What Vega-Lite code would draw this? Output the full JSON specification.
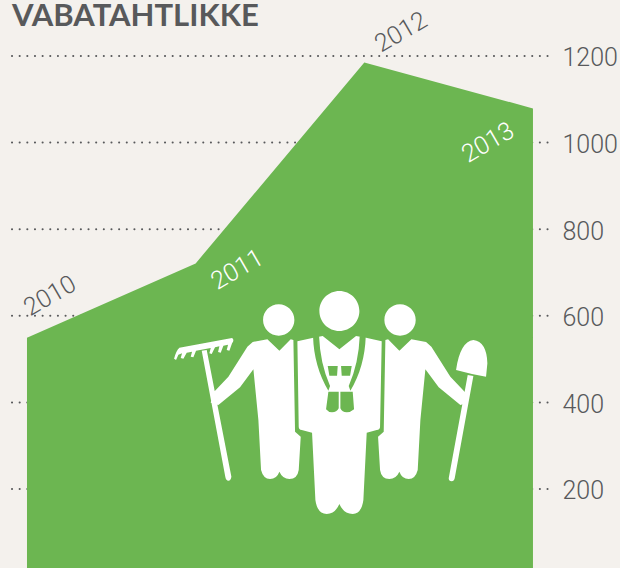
{
"$schema":"https://vega.github.io/schema/vega-lite/v6.json",
"width":620,"height":568,"padding":0,"autosize":{"type":"none"},
"background":"#f4f1ed",
"config":{"view":{"stroke":null}},
"datasets":{
"years":[{"year":2010,"value":549},{"year":2011,"value":721},{"year":2012,"value":1185},{"year":2013,"value":1079}],
"grid":[{"value":200},{"value":400},{"value":600},{"value":800},{"value":1000},{"value":1200}],
"anchor":[{"year":2010.789,"value":682.7}],
"heading":[{"year":2009.911,"value":1269.5,"label":"VABATAHTLIKKE"}]
},
"layer":[
{"data":{"name":"grid"},"mark":{"type":"rule","color":"#58595b","strokeWidth":2,"strokeCap":"round","strokeDash":[0.1,7.55]},
 "encoding":{"x":{"datum":2009.911,"type":"quantitative","scale":{"domain":[2009.84,2013.516],"nice":false,"zero":false},"axis":null},"x2":{"datum":2013.101},
 "y":{"field":"value","type":"quantitative","scale":{"domain":[17.5,1329.3],"nice":false,"zero":false},
  "axis":{"orient":"right","offset":-58,"title":null,"values":[200,400,600,800,1000,1200],"format":"d","domain":false,"ticks":false,"grid":false,"labelPadding":0,"labelOffset":2,"labelFont":"Roboto","labelFontWeight":300,"labelFontSize":25,"labelColor":"#58595b","labelAlign":"left","labelBaseline":"middle"}}}},
{"data":{"name":"heading"},"mark":{"type":"text","font":"Lato","fontWeight":700,"fontSize":31,"color":"#58595b","align":"left","baseline":"alphabetic"},
 "encoding":{"x":{"field":"year","type":"quantitative"},"y":{"field":"value","type":"quantitative"},"text":{"field":"label","type":"nominal"}}},
{"data":{"name":"years"},"mark":{"type":"area","color":"#6cb651","clip":true},
 "encoding":{"x":{"field":"year","type":"quantitative"},"y":{"field":"value","type":"quantitative"}}},
{"data":{"name":"years"},"transform":[{"filter":"datum.year==2010"}],"mark":{"type":"text","font":"Roboto","fontWeight":300,"fontSize":25,"angle":-30,"color":"#58595b","dx":41,"dy":-25,"align":"center","baseline":"middle"},
 "encoding":{"x":{"field":"year","type":"quantitative"},"y":{"field":"value","type":"quantitative"},"text":{"field":"year","type":"nominal"}}},
{"data":{"name":"years"},"transform":[{"filter":"datum.year==2011"}],"mark":{"type":"text","font":"Roboto","fontWeight":300,"fontSize":25,"angle":-30,"color":"#ffffff","dx":33,"dy":26,"align":"center","baseline":"middle"},
 "encoding":{"x":{"field":"year","type":"quantitative"},"y":{"field":"value","type":"quantitative"},"text":{"field":"year","type":"nominal"}}},
{"data":{"name":"years"},"transform":[{"filter":"datum.year==2012"}],"mark":{"type":"text","font":"Roboto","fontWeight":300,"fontSize":25,"angle":-30,"color":"#58595b","dx":47,"dy":-8,"align":"center","baseline":"middle"},
 "encoding":{"x":{"field":"year","type":"quantitative"},"y":{"field":"value","type":"quantitative"},"text":{"field":"year","type":"nominal"}}},
{"data":{"name":"years"},"transform":[{"filter":"datum.year==2013"}],"mark":{"type":"text","font":"Roboto","fontWeight":300,"fontSize":25,"angle":-30,"color":"#ffffff","dx":-56,"dy":7,"align":"center","baseline":"middle"},
 "encoding":{"x":{"field":"year","type":"quantitative"},"y":{"field":"value","type":"quantitative"},"text":{"field":"year","type":"nominal"}}},
{"data":{"name":"anchor"},"mark":{"type":"point","filled":true,"opacity":1,"color":"#ffffff","strokeWidth":0,"size":0.4444,
 "shape":"M798,186L754,178L718,212L684,178L676,180L671,455L654,470L660,570Q664,597,688,597Q708,597,718,575Q726,597,746,597Q766,597,773,570L781,420L796,268L836,322L901,375L924,368L918,340L871,290L814,200Z"},
 "encoding":{"x":{"field":"year","type":"quantitative"},"y":{"field":"value","type":"quantitative"}}},
{"data":{"name":"anchor"},"mark":{"type":"point","filled":true,"opacity":1,"color":"#ffffff","strokeWidth":0,"size":0.4444,
 "shape":"M478,93A60,60,0,1,1,598,93A60,60,0,1,1,478,93ZM309,120A47,47,0,1,1,403,120A47,47,0,1,1,309,120ZM673,120A47,47,0,1,1,767,120A47,47,0,1,1,673,120ZM278,186L322,178L358,212L392,178L400,180L405,455L422,470L416,570Q412,597,388,597Q368,597,358,575Q350,597,330,597Q310,597,303,570L295,420L280,268L240,322L175,375L152,368L158,340L205,290L262,200Z M412,184L460,173L488,168L538,208L588,168L618,173L665,184L660,440Q660,448,650,450L620,458L610,660Q604,702,578,702Q551,702,538,672Q525,702,500,702Q472,702,466,660L456,458L425,450Q416,448,416,440Z M125,212L140,210L214,590Q212,602,205,602Q198,602,196,592Z M58,203L216,174Q224,180,216,190L208,212L200,210L204,194L190,197L182,218L174,216L178,199L165,202L155,222L148,220L152,204L108,212L100,232L92,230L96,215L80,218L70,236L62,234L66,220L55,224L48,240L42,236Q48,212,58,203Z M923,285L940,288L884,595Q882,604,875,604Q866,604,866,595Z M888,270Q900,185,940,180Q980,185,982,250L978,290Q930,282,888,270Z"},
 "encoding":{"x":{"field":"year","type":"quantitative"},"y":{"field":"value","type":"quantitative"}}},
{"data":{"name":"anchor"},"mark":{"type":"point","filled":true,"opacity":1,"color":"#6cb651","strokeWidth":0,"size":0.4444,
 "shape":"M459,170L477,168Q480,250,510,318L505,332Q462,260,459,170Z M617,170L599,168Q596,250,566,318L571,332Q614,260,617,170Z M505,335L536,335L536,385Q530,397,516,397Q505,397,498,388Z M541,335L578,335L582,388Q572,397,560,397Q546,397,541,385Z M503,258L533,258L531,287L508,287Z M543,258L575,258L570,287L545,287Z"},
 "encoding":{"x":{"field":"year","type":"quantitative"},"y":{"field":"value","type":"quantitative"}}}
]
}
